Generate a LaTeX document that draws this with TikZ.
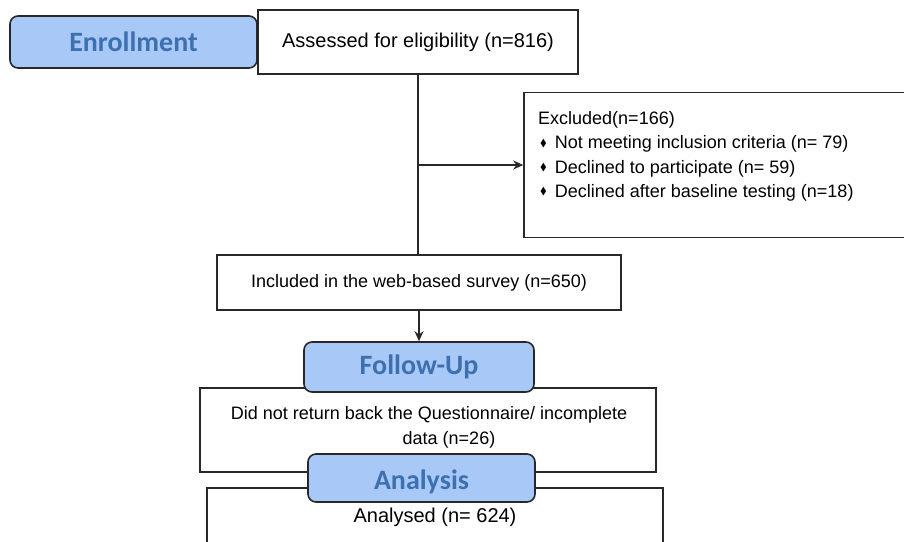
\documentclass[tikz,border=0pt]{standalone}
\usepackage{fontspec}
\usepackage{amssymb}
\setmainfont{Liberation Sans}
\newfontfamily\labelfont{Carlito}
\usetikzlibrary{arrows.meta}
\definecolor{lblfill}{RGB}{168,200,248}
\definecolor{lbltext}{RGB}{62,112,175}
\definecolor{edge}{RGB}{40,40,40}
\newcommand{\bulletdia}{\raisebox{2.5pt}{\fontsize{10}{10}\selectfont$\blacklozenge$}}
\tikzset{
  stagebox/.style={draw=edge, line width=1.6pt, fill=lblfill, rounded corners=8pt,
    inner sep=0pt, text=lbltext, font=\labelfont\bfseries\fontsize{28}{30}\selectfont},
  infobox/.style={draw=edge, line width=1.6pt, fill=white, inner sep=0pt},
  conn/.style={draw=edge, line width=1.8pt},
  arr/.style={conn, -{Stealth[length=10pt,width=9pt]}},
}
\begin{document}
\begin{tikzpicture}[x=1pt,y=-1pt]
\useasboundingbox (0,0) rectangle (904,541);
\clip (0,0) rectangle (904,541);
\fill[white] (0,0) rectangle (904,541);

\node[stagebox, minimum width=247pt, minimum height=52pt] (enroll) at (133.5,42) {Enrollment};
\node[infobox, minimum width=320pt, minimum height=64pt, font=\fontsize{20}{24}\selectfont] (assess) at (418,42) {Assessed for eligibility (n=816)};

\node[infobox, minimum width=400pt, minimum height=145pt] (excl) at (724,165) {};
\node[anchor=north west, align=left, inner sep=0pt, font=\fontsize{18}{24.4}\selectfont] (excltext) at (538,111)
  {Excluded(n=166)\\
   \hspace*{2pt}\bulletdia\hspace{8pt}Not meeting inclusion criteria (n=~79)\\
   \hspace*{2pt}\bulletdia\hspace{8pt}Declined to participate (n=~59)\\
   \hspace*{2pt}\bulletdia\hspace{8pt}Declined after baseline testing (n=18)};

\node[infobox, minimum width=404pt, minimum height=55pt, font=\fontsize{18}{22}\selectfont] (incl) at (419,282.5) {Included in the web-based survey (n=650)};

\node[infobox, minimum width=456pt, minimum height=84pt] (lost) at (428,430) {};
\node[inner sep=0pt, align=center, font=\fontsize{18}{25}\selectfont] (losttext) at (429,427)
  {Did not return back the Questionnaire/ incomplete\\\hspace*{40pt}data (n=26)};

\node[stagebox, minimum width=230pt, minimum height=50pt] (follow) at (419,367) {Follow-Up};

\node[infobox, minimum width=456pt, minimum height=80pt] (analysed) at (435,528) {};
\node[inner sep=0pt, font=\fontsize{20}{24}\selectfont] (analysedtext) at (435,517) {Analysed (n=~624)};

\node[stagebox, minimum width=227pt, minimum height=48pt] (analysis) at (421.5,478) {};
\node[inner sep=0pt, text=lbltext, font=\labelfont\bfseries\fontsize{28}{30}\selectfont] (analysistext) at (421.5,482) {Analysis};

\draw[conn] (assess.south) -- (assess.south |- incl.north);
\draw[arr] (assess.south |- excl.west) -- (excl.west);
\draw[arr] (incl.south) -- (follow.north);
\end{tikzpicture}
\end{document}
